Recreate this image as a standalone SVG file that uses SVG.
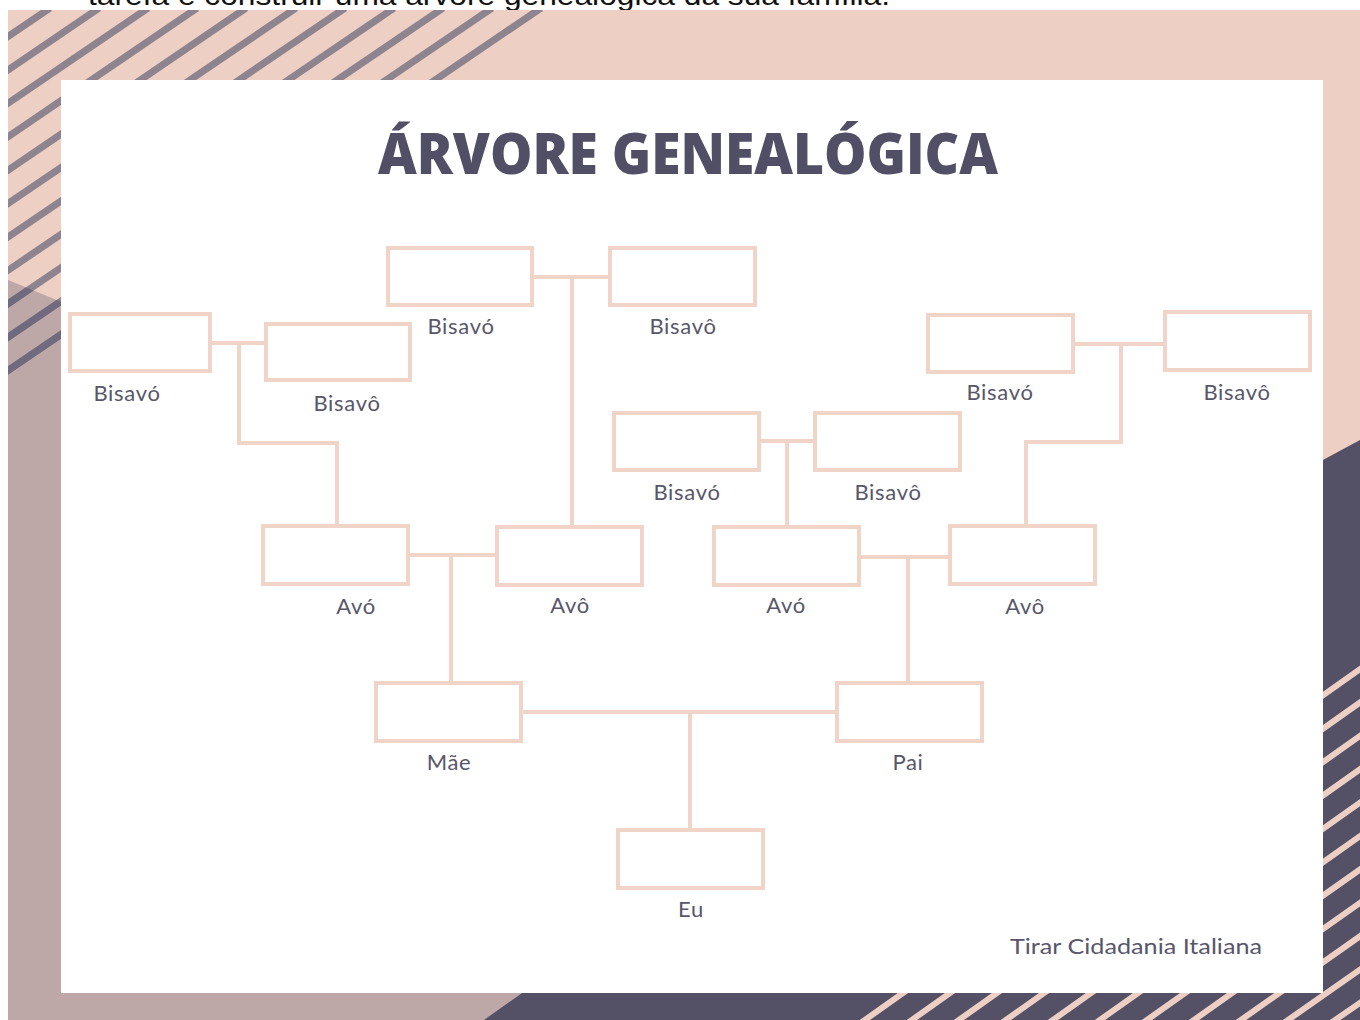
<svg xmlns="http://www.w3.org/2000/svg" xmlns:xlink="http://www.w3.org/1999/xlink" width="1360" height="1020" viewBox="0 0 1360 1020">
<style>
.box{fill:#ffffff;stroke:#efd4c7;stroke-width:4}
.conn{fill:none;stroke:#efd4c7;stroke-width:4}
.lbl{font-family:Lato,"Noto Sans",sans-serif;font-size:22px;letter-spacing:0.7px;fill:#58566a;text-anchor:middle}
.title{font-family:"Open Sans","Noto Sans",sans-serif;font-weight:800;font-size:57px;fill:#514f66}
</style>
<defs>
<clipPath id="mauveClip"><polygon points="8,280 700,564 700,1020 8,1020"/></clipPath>
<g id="stripesTL" stroke-width="7">
<line x1="0" y1="42" x2="50" y2="8"/>
<line x1="0" y1="75.4" x2="99" y2="8"/>
<line x1="0" y1="108.8" x2="148" y2="8"/>
<line x1="0" y1="142.2" x2="197" y2="8"/>
<line x1="0" y1="175.6" x2="246" y2="8"/>
<line x1="0" y1="209" x2="296" y2="8"/>
<line x1="0" y1="242.4" x2="345" y2="8"/>
<line x1="0" y1="275.8" x2="394" y2="8"/>
<line x1="0" y1="309.2" x2="443" y2="8"/>
<line x1="0" y1="342.6" x2="492" y2="8"/>
<line x1="0" y1="376" x2="541" y2="8"/>
</g>
</defs>
<rect x="0" y="0" width="1360" height="1020" fill="#ffffff"/>
<text x="88" y="5" font-family="'Liberation Sans',Arial,sans-serif" font-size="28" fill="#111111" textLength="802" lengthAdjust="spacingAndGlyphs">tarefa e construir uma árvore genealógica da sua família.</text>
<g id="background">
<rect x="8" y="10" width="1352" height="1010" fill="#edcfc3"/>
<polygon points="8,280 700,564 700,1020 8,1020" fill="#bea7a7"/>
<svg x="8" y="10" width="1352" height="1010" viewBox="8 10 1352 1010" overflow="hidden">
<use xlink:href="#stripesTL" stroke="#8e8490"/>
<use xlink:href="#stripesTL" stroke="#6f6a7e" clip-path="url(#mauveClip)"/>
<polygon points="1360,440 1113,573 484,1020 1360,1020" fill="#545166"/>
<g stroke="#edcfc3" stroke-width="6">
<line x1="855" y1="1027" x2="1370" y2="662"/>
<line x1="902" y1="1027" x2="1370" y2="695.4"/>
<line x1="949" y1="1027" x2="1370" y2="728.8"/>
<line x1="996" y1="1027" x2="1370" y2="762.2"/>
<line x1="1043" y1="1027" x2="1370" y2="795.6"/>
<line x1="1090" y1="1027" x2="1370" y2="829"/>
<line x1="1137" y1="1027" x2="1370" y2="862.4"/>
<line x1="1184" y1="1027" x2="1370" y2="895.8"/>
<line x1="1231" y1="1027" x2="1370" y2="929.2"/>
<line x1="1278" y1="1027" x2="1370" y2="962.6"/>
<line x1="1325" y1="1027" x2="1370" y2="996"/>
</g>
</svg>
<rect x="61" y="80" width="1262" height="913" fill="#ffffff"/>
</g>
<text class="title" x="378" y="174" textLength="620" lengthAdjust="spacingAndGlyphs">ÁRVORE GENEALÓGICA</text>
<g id="connectors">
<path class="conn" d="M212,343 H264 M239,343 V443 H337 V524"/>
<path class="conn" d="M534,277 H608 M572,277 V525"/>
<path class="conn" d="M761,441 H813 M787,441 V525"/>
<path class="conn" d="M1075,344 H1163 M1121,344 V442 H1026 V524"/>
<path class="conn" d="M410,555 H495 M451,555 V681"/>
<path class="conn" d="M861,557 H948 M908,557 V681"/>
<path class="conn" d="M523,712 H835 M690,712 V828"/>
</g>
<g id="n1"><rect class="box" x="70" y="314" width="140" height="57"/><text class="lbl" x="127" y="401">Bisavó</text></g>
<g id="n2"><rect class="box" x="266" y="324" width="144" height="56"/><text class="lbl" x="347" y="411">Bisavô</text></g>
<g id="n3"><rect class="box" x="388" y="248" width="144" height="57"/><text class="lbl" x="461" y="334">Bisavó</text></g>
<g id="n4"><rect class="box" x="610" y="248" width="145" height="57"/><text class="lbl" x="683" y="334">Bisavô</text></g>
<g id="n5"><rect class="box" x="928" y="315" width="145" height="57"/><text class="lbl" x="1000" y="400">Bisavó</text></g>
<g id="n6"><rect class="box" x="1165" y="312" width="145" height="58"/><text class="lbl" x="1237" y="400">Bisavô</text></g>
<g id="n7"><rect class="box" x="614" y="413" width="145" height="57"/><text class="lbl" x="687" y="500">Bisavó</text></g>
<g id="n8"><rect class="box" x="815" y="413" width="145" height="57"/><text class="lbl" x="888" y="500">Bisavô</text></g>
<g id="n9"><rect class="box" x="263" y="526" width="145" height="58"/><text class="lbl" x="356" y="614">Avó</text></g>
<g id="n10"><rect class="box" x="497" y="527" width="145" height="58"/><text class="lbl" x="570" y="613">Avô</text></g>
<g id="n11"><rect class="box" x="714" y="527" width="145" height="58"/><text class="lbl" x="786" y="613">Avó</text></g>
<g id="n12"><rect class="box" x="950" y="526" width="145" height="58"/><text class="lbl" x="1025" y="614">Avô</text></g>
<g id="n13"><rect class="box" x="376" y="683" width="145" height="58"/><text class="lbl" x="449" y="770">Mãe</text></g>
<g id="n14"><rect class="box" x="837" y="683" width="145" height="58"/><text class="lbl" x="908" y="770">Pai</text></g>
<g id="n15"><rect class="box" x="618" y="830" width="145" height="58"/><text class="lbl" x="691" y="917">Eu</text></g>
<text x="1010" y="954" font-family="Lato,'Noto Sans',sans-serif" font-size="22" fill="#58566a" textLength="252" lengthAdjust="spacingAndGlyphs">Tirar Cidadania Italiana</text>
</svg>
